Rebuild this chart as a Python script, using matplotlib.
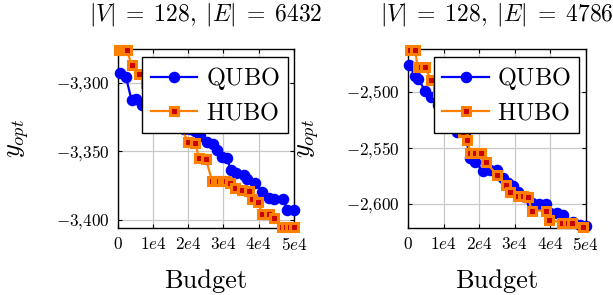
import matplotlib
matplotlib.use("Agg")
import matplotlib.pyplot as plt

plt.rcParams["font.family"] = "serif"
plt.rcParams["font.serif"] = ["cmr10", "DejaVu Serif"]
plt.rcParams["mathtext.fontset"] = "cm"
plt.rcParams["axes.unicode_minus"] = True

# left panel: |E| = 6432
qubo_x_1 = [600, 2400, 4000, 5300, 7000, 9000, 11000, 13000, 15000, 17000, 18700, 20500,
            22000, 23500, 25300, 27100, 28300, 29700, 31000, 32100, 33500, 35800, 36800,
            39000, 41000, 42800, 44300, 47000, 48100, 49900]
qubo_y_1 = [-3293, -3296, -3313, -3312, -3316, -3318, -3320, -3322, -3326, -3330, -3334, -3334,
            -3335, -3339, -3343, -3345, -3349, -3354, -3355, -3364, -3366, -3367, -3370,
            -3373, -3380, -3384, -3385, -3385, -3393, -3393]
hubo_x_1 = [300, 1000, 1700, 2600, 4000, 6000, 8000, 10000, 12000, 14000, 16000, 18000, 20000,
            22000, 23100, 25100, 26800, 27800, 28800, 29800, 30800, 31800, 33400, 35300, 37200,
            38200, 39800, 41000, 42800, 44300, 46600, 47700, 48800, 49900]
hubo_y_1 = [-3276, -3276, -3276, -3276, -3287, -3294, -3300, -3306, -3312, -3320, -3326, -3333,
            -3343, -3344, -3355, -3356, -3372, -3372, -3372, -3372, -3372, -3373, -3377, -3378,
            -3379, -3385, -3387, -3396, -3396, -3399, -3405, -3405, -3405, -3405]

# right panel: |E| = 4786
qubo_x_2 = [400, 1900, 2900, 4800, 6500, 8500, 10500, 12200, 13700, 16000, 17500, 19000, 21200,
            23000, 25000, 26800, 28300, 29600, 31000, 33000, 34800, 37000, 38800, 40000, 42000,
            43800, 46500, 48400, 50000]
qubo_y_2 = [-2476, -2486, -2489, -2499, -2505, -2512, -2520, -2528, -2536, -2537, -2559, -2563,
            -2571, -2570, -2570, -2577, -2581, -2584, -2589, -2594, -2599, -2600, -2600, -2608,
            -2608, -2610, -2616, -2619, -2620]
hubo_x_2 = [700, 2000, 2700, 3800, 4800, 6500, 8500, 10500, 12500, 14500, 15600, 16700, 17600,
            19000, 20700, 22000, 25000, 27600, 28700, 31000, 32400, 33900, 34800, 38800, 39700,
            43500, 45000, 46100, 49300]
hubo_y_2 = [-2463, -2463, -2478, -2478, -2478, -2490, -2500, -2510, -2520, -2530, -2536, -2543,
            -2555, -2555, -2555, -2563, -2574, -2583, -2589, -2593, -2593, -2594, -2606, -2606,
            -2614, -2617, -2617, -2617, -2621]

titles = [r"$|V|\;=\;128,\;|E|\;=\;6432$", r"$|V|\;=\;128,\;|E|\;=\;4786$"]
x_ticks = [0, 10000, 20000, 30000, 40000, 50000]
x_tick_labels = [r"$0$", r"$1e4$", r"$2e4$", r"$3e4$", r"$4e4$", r"$5e4$"]
y_ticks_1 = [-3400, -3350, -3300]
y_ticks_2 = [-2600, -2550, -2500]
y_lims = [(-3406, -3275.5), (-2621.5, -2462)]

W, H = 613, 295
fig = plt.figure(figsize=(W / 100, H / 100), dpi=100)
axes_px = [(117.5, 49, 294, 228), (408, 49, 585.5, 228)]

panels = [
    (qubo_x_1, qubo_y_1, hubo_x_1, hubo_y_1, y_ticks_1),
    (qubo_x_2, qubo_y_2, hubo_x_2, hubo_y_2, y_ticks_2),
]

for i, (qx, qy, hx, hy, yt) in enumerate(panels):
    x0, y0, x1, y1 = axes_px[i]
    ax = fig.add_axes([x0 / W, 1 - y1 / H, (x1 - x0) / W, (y1 - y0) / H])
    ax.plot(qx, qy, color="#0000FF", lw=1.6, marker="o", ms=7.3, mfc="#0000FF",
            mec="#0000FF", label=r"$\mathrm{QUBO}$", clip_on=False, zorder=3)
    ax.plot(hx, hy, color="#FF8000", lw=1.6, marker="s", ms=5.6, mfc="#C80000",
            mec="#FF8000", mew=2.2, label=r"$\mathrm{HUBO}$", clip_on=False, zorder=4)
    ax.set_xlim(0, 50000)
    ax.set_ylim(*y_lims[i])
    ax.set_xticks(x_ticks)
    ax.set_xticklabels(x_tick_labels)
    ax.set_yticks(yt)
    ax.set_yticklabels([r"$-%d{,}%03d$" % (abs(v) // 1000, abs(v) % 1000) for v in yt])
    ax.tick_params(direction="in", length=3, width=0.8, top=True, right=True,
                   labelsize=12.3, pad=6, colors="black")
    ax.grid(True, color="#C8C8C8", lw=0.9)
    ax.set_axisbelow(True)
    for sp in ax.spines.values():
        sp.set_linewidth(1.0)
        sp.set_zorder(2.5)

    ax.text(0.5, 1.19, titles[i], transform=ax.transAxes, ha="center", va="center",
            fontsize=17)
    ax.set_xlabel("Budget", fontsize=19)
    ax.xaxis.set_label_coords(0.5, -0.295)
    ax.xaxis.label.set_va("center")
    ax.set_ylabel(r"$y_{opt}$", fontsize=19)
    ax.yaxis.set_label_coords(-0.56, 0.5)
    ax.yaxis.label.set_va("center")

    leg = ax.legend(loc="upper right", bbox_to_anchor=(0.966, 0.957), fontsize=17.5,
                    numpoints=1, handlelength=1.9, handletextpad=0.35, borderpad=0.35,
                    labelspacing=0.4, fancybox=False, framealpha=1,
                    edgecolor="black", borderaxespad=0)
    leg.get_frame().set_linewidth(1.0)
    leg.set_zorder(10)

fig.savefig("out.png", dpi=100)
